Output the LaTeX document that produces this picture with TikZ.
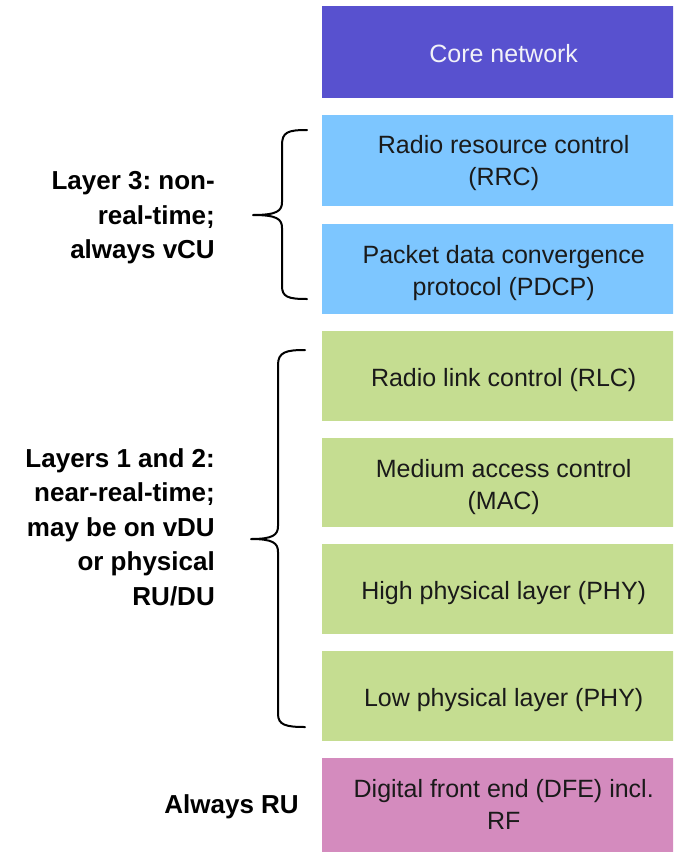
\documentclass[tikz,border=0pt]{standalone}
\usepackage{fontspec}
\setmainfont{Liberation Sans}
\frenchspacing
\definecolor{corec}{RGB}{88,81,207}
\definecolor{cuc}{RGB}{125,198,255}
\definecolor{duc}{RGB}{197,221,145}
\definecolor{ruc}{RGB}{212,139,190}
\definecolor{ink}{RGB}{26,26,26}
\tikzset{
  layerbox/.style={anchor=north west, minimum width=363pt, minimum height=91pt,
    inner sep=0pt},
  boxtext/.style={align=center, inner sep=0pt, text=ink,
    font=\fontsize{25}{32}\selectfont},
  sidelabel/.style={anchor=east, align=right, inner sep=0pt, text=black,
    font=\fontsize{26}{34.5}\selectfont\bfseries},
  bracepath/.style={draw=black, line width=2pt, line cap=round, line join=round}
}
\begin{document}
\begin{tikzpicture}[x=1pt,y=-1pt]
\useasboundingbox (0,0) rectangle (673,854);
\begin{scope}
\clip (0,0) rectangle (673,854);
% protocol stack
\node[layerbox, fill=corec, minimum height=92pt] (core) at (322,6) {};
\node[layerbox, fill=cuc] (rrc) at (322,115) {};
\node[layerbox, fill=cuc, minimum height=90pt] (pdcp) at (322,224) {};
\node[layerbox, fill=duc, minimum height=90pt] (rlc) at (322,331) {};
\node[layerbox, fill=duc, minimum height=89pt] (mac) at (322,438) {};
\node[layerbox, fill=duc, minimum height=90pt] (hphy) at (322,544) {};
\node[layerbox, fill=duc, minimum height=90pt] (lphy) at (322,651) {};
\node[layerbox, fill=ruc, minimum height=94pt] (dfe) at (322,758) {};
\end{scope}
\node[boxtext, text={rgb,255:red,242;green,242;blue,248}] (core-t) at ([yshift=-1pt]core.center) {Core network};
\node[boxtext] (rrc-t) at ([yshift=-2pt]rrc.center) {Radio resource control\\(RRC)};
\node[boxtext] (pdcp-t) at ([yshift=-4pt]pdcp.center) {Packet data convergence\\protocol (PDCP)};
\node[boxtext] (rlc-t) at ([yshift=-4pt]rlc.center) {Radio link control (RLC)};
\node[boxtext] (mac-t) at ([yshift=-4pt]mac.center) {Medium access control\\(MAC)};
\node[boxtext] (hphy-t) at ([yshift=-4pt]hphy.center) {High physical layer (PHY)};
\node[boxtext] (lphy-t) at ([yshift=-4pt]lphy.center) {Low physical layer (PHY)};
\node[boxtext] (dfe-t) at ([yshift=1pt]dfe.center) {Digital front end (DFE) incl.\\RF};

% braces grouping the layers
\coordinate (b1tip) at (253,215);
\draw[bracepath] (307,130) .. controls (288,130) and (282,132) .. (282,145)
  -- (282,202) .. controls (282,211) and (277,215) .. (b1tip)
  .. controls (277,215) and (282,219) .. (282,228)
  -- (282,286) .. controls (282,297) and (288,299) .. (307,299);
\coordinate (b2tip) at (251,539);
\draw[bracepath] (305,350) .. controls (286,350) and (278,352) .. (278,365)
  -- (278,526) .. controls (278,535) and (273,539) .. (b2tip)
  .. controls (273,539) and (278,543) .. (278,552)
  -- (278,714) .. controls (278,725) and (286,727) .. (305,727);

% side labels
\node[sidelabel] (l3) at (215,218) {Layer 3: non-\\real-time;\\always vCU};
\node[sidelabel] (l12) at (215,527) {Layers 1 and 2:\\near-real-time;\\may be on vDU\\or physical\\RU/DU};
\node[sidelabel] (lru) at (299,807) {Always RU};
\end{tikzpicture}
\end{document}
